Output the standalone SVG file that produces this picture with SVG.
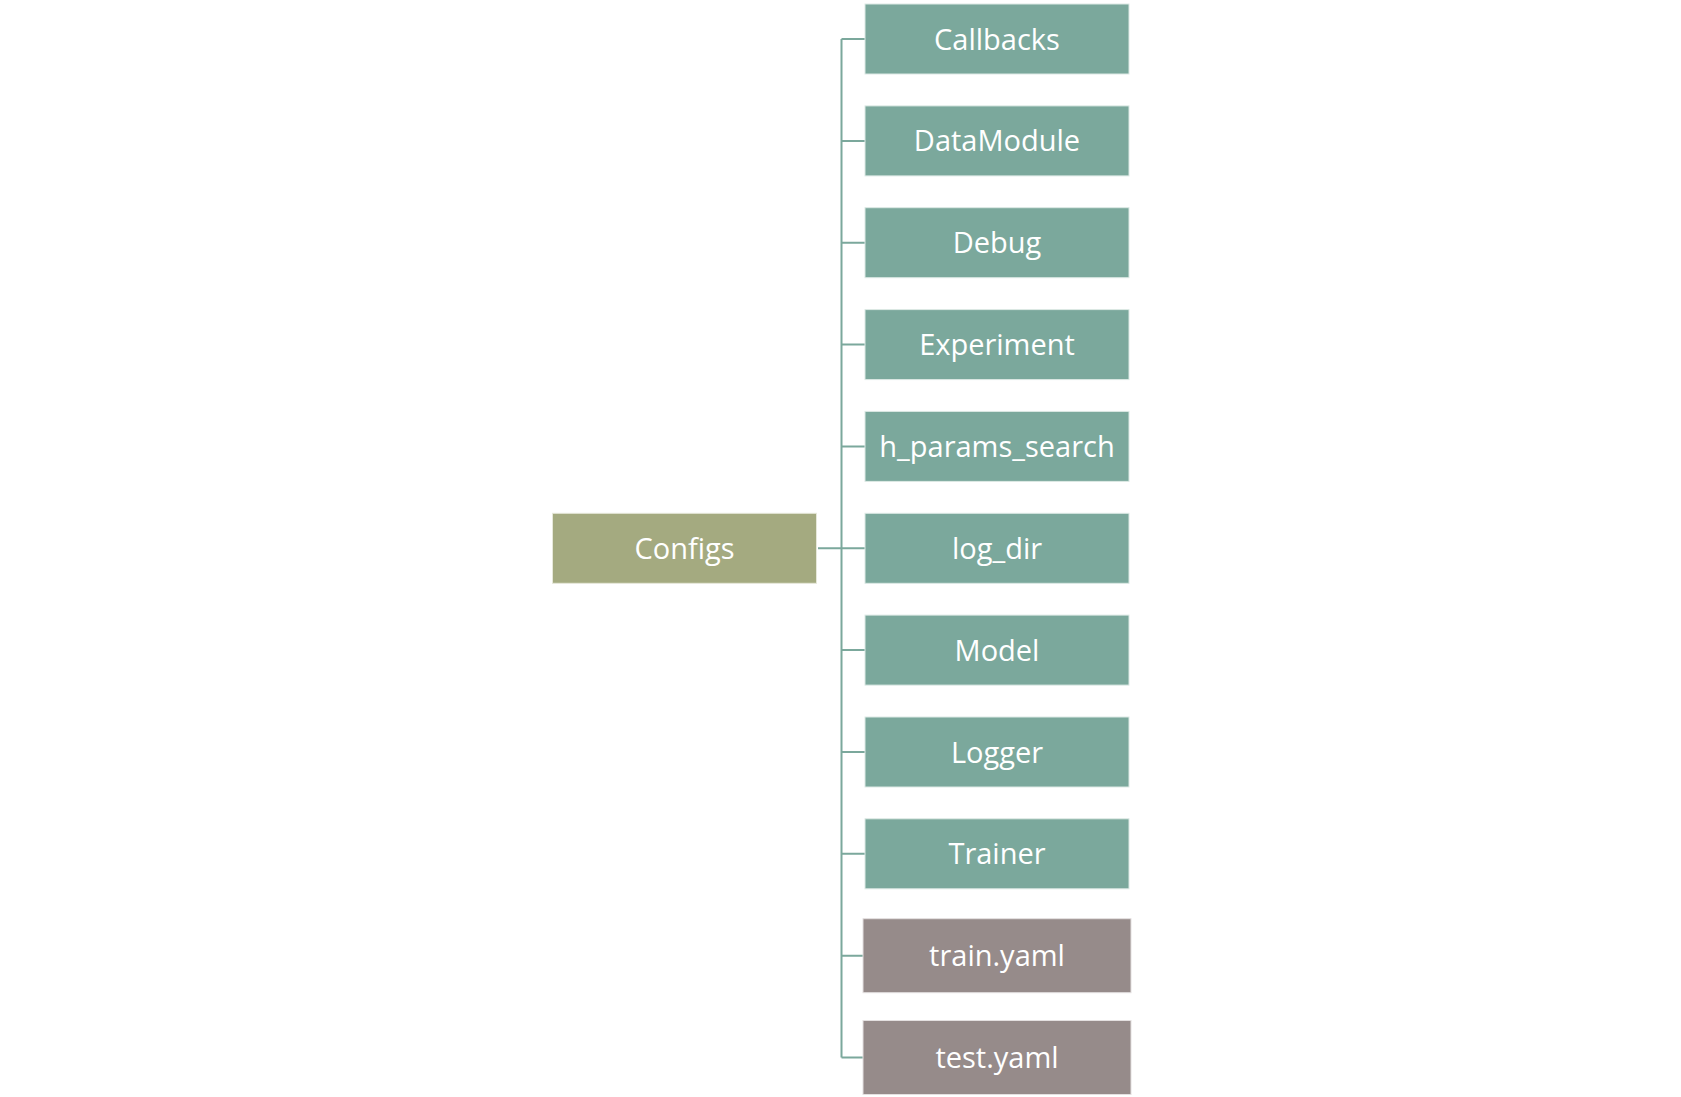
<svg xmlns="http://www.w3.org/2000/svg" width="1681" height="1097" viewBox="0 0 1681 1097">
<style>
.g{fill:#7BA89C;stroke:#DDE9E5;stroke-width:1}
.c{fill:#A4AA80;stroke:#E6E8DA;stroke-width:1}
.y{fill:#968B8A;stroke:#E4E0E0;stroke-width:1}
.t{font-family:"Open Sans","Noto Sans",sans-serif;font-size:29px;fill:#FFFFFF;text-anchor:middle}
.l{stroke:#7BA89C;stroke-width:2;fill:none}
</style>
<rect width="1681" height="1097" fill="#FFFFFF"/>
<g id="connectors">
<path class="l" d="M841.5 39V1057.5M818 548.3H865M841.5 39H865M841.5 140.9H865M841.5 242.7H865M841.5 344.6H865M841.5 446.4H865M841.5 650.1H865M841.5 752H865M841.5 853.8H865M841.5 955.7H863M841.5 1057.5H863"/>
</g>
<g id="configs"><rect class="c" x="552.5" y="513.3" width="264" height="70"/><text class="t" x="684.5" y="558.8">Configs</text></g>
<g id="callbacks"><rect class="g" x="865" y="4" width="264" height="70"/><text class="t" x="997" y="49.5">Callbacks</text></g>
<g id="datamodule"><rect class="g" x="865" y="105.9" width="264" height="70"/><text class="t" x="997" y="151.4">DataModule</text></g>
<g id="debug"><rect class="g" x="865" y="207.7" width="264" height="70"/><text class="t" x="997" y="253.2">Debug</text></g>
<g id="experiment"><rect class="g" x="865" y="309.6" width="264" height="70"/><text class="t" x="997" y="355.1">Experiment</text></g>
<g id="h_params_search"><rect class="g" x="865" y="411.4" width="264" height="70"/><text class="t" x="997" y="456.9">h_params_search</text></g>
<g id="log_dir"><rect class="g" x="865" y="513.3" width="264" height="70"/><text class="t" x="997" y="558.8">log_dir</text></g>
<g id="model"><rect class="g" x="865" y="615.1" width="264" height="70"/><text class="t" x="997" y="660.6">Model</text></g>
<g id="logger"><rect class="g" x="865" y="717" width="264" height="70"/><text class="t" x="997" y="762.5">Logger</text></g>
<g id="trainer"><rect class="g" x="865" y="818.8" width="264" height="70"/><text class="t" x="997" y="864.3">Trainer</text></g>
<g id="train_yaml"><rect class="y" x="863" y="918.7" width="268" height="74"/><text class="t" x="997" y="966.2">train.yaml</text></g>
<g id="test_yaml"><rect class="y" x="863" y="1020.5" width="268" height="74"/><text class="t" x="997" y="1068">test.yaml</text></g>
</svg>
